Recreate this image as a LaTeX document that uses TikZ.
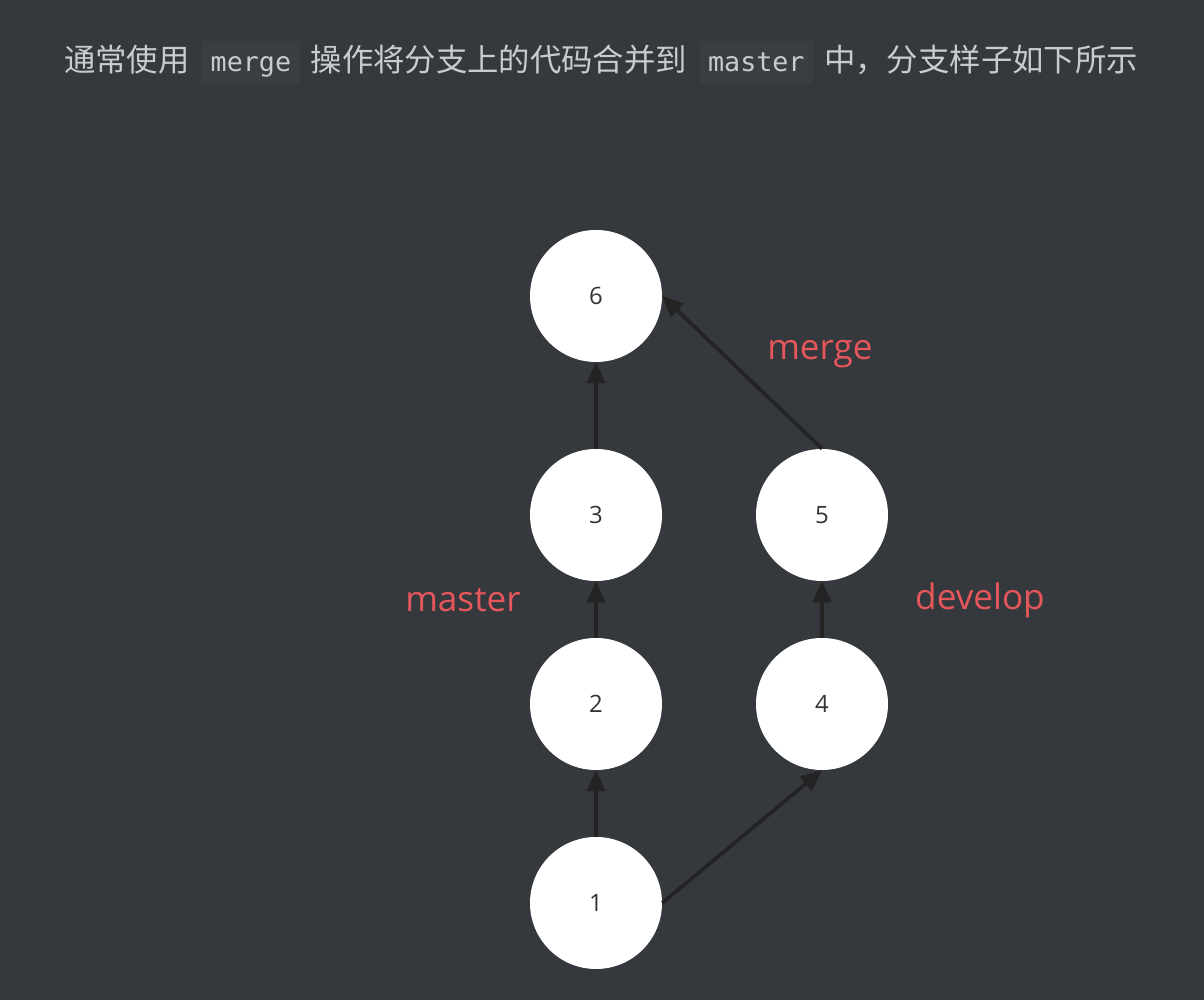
\documentclass[tikz,border=0pt]{standalone}
\usepackage{fontspec}
\setmainfont{Open Sans}
\newfontfamily\cjkfont{Noto Sans CJK SC}
\newfontfamily\codefont{DejaVu Sans Mono}
\usetikzlibrary{arrows.meta}
\definecolor{bgcolor}{HTML}{35383D}
\definecolor{codebg}{HTML}{3A3D42}
\definecolor{headtext}{HTML}{C9CBCF}
\definecolor{linkcolor}{HTML}{232323}
\definecolor{labelred}{HTML}{E5575B}
\newcommand{\inlinecode}[1]{\hspace{9pt}{\setlength{\fboxsep}{0pt}\colorbox{codebg}{\hspace{6pt}\codefont\fontsize{19pt}{22pt}\selectfont\rule[-8pt]{0pt}{30pt}#1\hspace{6pt}}}\hspace{8pt}}

\begin{document}
\begin{tikzpicture}[
    link/.style={draw=linkcolor, line width=2.6pt, -{Triangle[length=15pt, width=13pt]}},
    branch/.style={text=labelred, font=\fontsize{25pt}{30pt}\selectfont}
]
\tikzstyle{commit}=[circle, fill=white, minimum size=3.3cm, inner sep=0pt,
    text=black!80, font=\fontsize{17pt}{20pt}\selectfont]

% background and page size
\fill[bgcolor] (0,0) rectangle (30.1,25);

\node[text=headtext, font=\cjkfont\fontsize{22.3pt}{26pt}\selectfont] (Title) at (15.025,23.45)
    {通常使用\inlinecode{merge}操作将分支上的代码合并到\inlinecode{master}中，分支样子如下所示};

\node[commit] (C1) at (14.9,2.425) {1};
\node[commit] (C2) at (14.9,7.4) {2};
\node[commit] (C3) at (14.9,12.125) {3};
\node[commit] (C6) at (14.9,17.6) {6};
\node[commit] (C4) at (20.55,7.4) {4};
\node[commit] (C5) at (20.55,12.125) {5};

\draw[link] (C1) -- (C2);
\draw[link] (C2) -- (C3);
\draw[link] (C3) -- (C6);
\draw[link] (C1.east) -- (C4.south);
\draw[link] (C4) -- (C5);
\draw[link] (C5.north) -- (C6.east);

\node[branch] (Master) at (11.575,10.0) {master};
\node[branch] (Develop) at (24.5,10.0) {develop};
\node[branch] (Merge) at (20.5,16.15) {merge};

\end{tikzpicture}
\end{document}
